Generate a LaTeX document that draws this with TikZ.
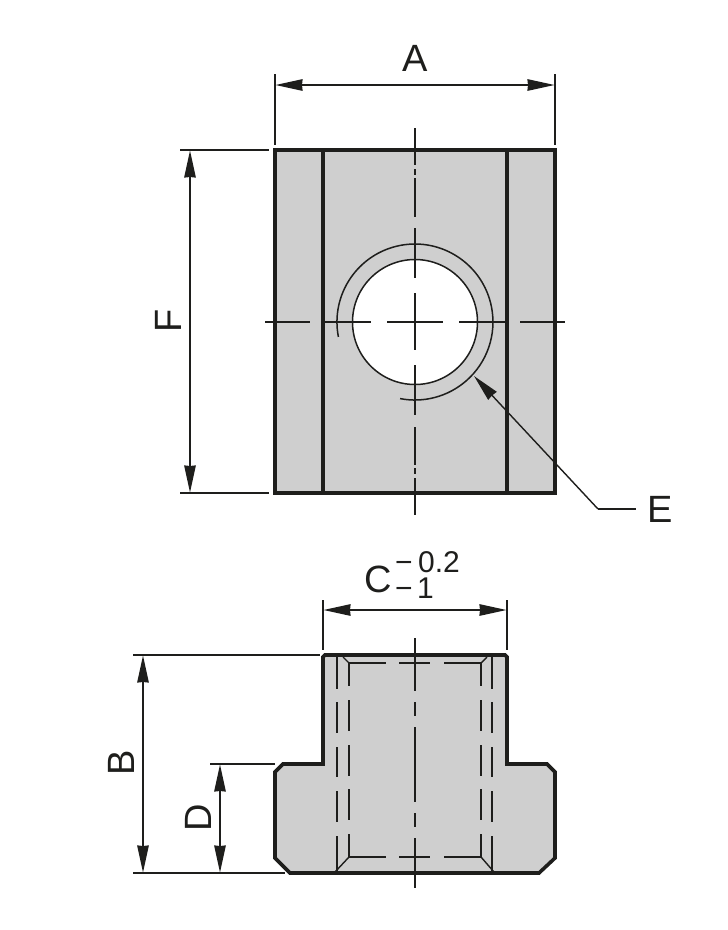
\documentclass[tikz,border=0pt]{standalone}
\usepackage{fontspec}
\setmainfont{Liberation Sans}
\usetikzlibrary{arrows.meta}
\definecolor{partgray}{HTML}{CFCFCF}
\definecolor{inkblack}{HTML}{1E1E1C}
\tikzset{
  partfill/.style={fill=partgray,draw=none},
  outline/.style={draw=inkblack,line width=3.6pt,line join=miter},
  thinline/.style={draw=inkblack,line width=1.5pt},
  hiddenline/.style={draw=inkblack,line width=1.4pt},
  dimline/.style={draw=inkblack,line width=1.4pt},
  dimarrows/.style={draw=inkblack,line width=1.4pt,{Stealth[length=27pt,width=11.5pt,inset=0.5pt]}-{Stealth[length=27pt,width=11.5pt,inset=0.5pt]}},
  leaderarrow/.style={draw=inkblack,line width=1.4pt,-{Stealth[length=27pt,width=11.5pt,inset=0.5pt]}},
  biglabel/.style={font=\fontsize{38}{38}\selectfont,text=inkblack,inner sep=0pt},
  smalllabel/.style={font=\fontsize{30}{30}\selectfont,text=inkblack,inner sep=0pt}
}
\begin{document}
\begin{tikzpicture}[x=1pt,y=-1pt]
\useasboundingbox (0,0) rectangle (728,930);

% ---- top view ----
\fill[partgray] (275,150) rectangle (555,493);
\node[circle,fill=white,draw=inkblack,line width=1.5pt,minimum size=125pt,inner sep=0pt] (hole) at (415,322) {};
\draw[thinline] (338.4,336.9) arc[start angle=191,end angle=-101,radius=78pt];
\draw[outline] (275,150) rectangle (555,493);
\draw[draw=inkblack,line width=3.4pt] (323,150) -- (323,493);
\draw[draw=inkblack,line width=3.4pt] (507,150) -- (507,493);
% centre lines
\foreach \a/\b in {128/165,169/175,178/217,228/278,293/350,365/415,427/465,468/474,478/515}
  \draw[thinline] (415,\a) -- (415,\b);
\foreach \a/\b in {265/310,322/371,387/443,459/508,520/565}
  \draw[thinline] (\a,322) -- (\b,322);

% dimension A
\coordinate (Atl) at (275,74); \coordinate (Abl) at (275,145);
\coordinate (Atr) at (555,74); \coordinate (Abr) at (555,145);
\coordinate (Al) at (275.5,85); \coordinate (Ar) at (554.5,85);
\draw[dimline] (Atl) -- (Abl);
\draw[dimline] (Atr) -- (Abr);
\draw[dimarrows] (Al) -- (Ar);
\node[biglabel,anchor=base] (labelA) at (415,71) {A};

% dimension F
\coordinate (Ftl) at (180,150); \coordinate (Ftr) at (269,150);
\coordinate (Fbl) at (180,493); \coordinate (Fbr) at (269,493);
\coordinate (Ft) at (190,150.5); \coordinate (Fb) at (190,492.5);
\draw[dimline] (Ftl) -- (Ftr);
\draw[dimline] (Fbl) -- (Fbr);
\draw[dimarrows] (Ft) -- (Fb);
\node[biglabel,anchor=base,rotate=90] (labelF) at (181,321) {F};

% leader E
\coordinate (Etip) at (474,376);
\coordinate (Eknee) at (598,509);
\coordinate (Eend) at (636,509);
\draw[leaderarrow] (Eknee) -- (Etip);
\draw[dimline] (Eknee) -- (Eend);
\node[biglabel,anchor=base west] (labelE) at (647,522) {E};

% ---- lower view ----
\path[partfill] (325,655) -- (505,655) -- (507,657) -- (507,764) -- (547,764) -- (555,772) -- (555,858) -- (539,873) -- (290,873) -- (275,858) -- (275,772) -- (283,764) -- (323,764) -- (323,657) -- cycle;
% hidden lines
\foreach \a/\b in {657/689,702/733,747/777,791/822,836/872} {
  \draw[hiddenline] (337,\a) -- (337,\b);
  \draw[hiddenline] (492,\a) -- (492,\b);
}
\foreach \a/\b in {663/686,700/731,745/776,789/820,834/857} {
  \draw[hiddenline] (349,\a) -- (349,\b);
  \draw[hiddenline] (481,\a) -- (481,\b);
}
\foreach \a/\b in {349/386,399/430,444/481} {
  \draw[hiddenline] (\a,663) -- (\b,663);
  \draw[hiddenline] (\a,857) -- (\b,857);
}
\draw[hiddenline] (343,657) -- (349,663);
\draw[hiddenline] (487,657) -- (481,663);
\draw[hiddenline] (349,857) -- (335,872);
\draw[hiddenline] (481,857) -- (494,872);
% centre line
\foreach \a/\b in {638/691,702/716,727/802,813/827,838/888}
  \draw[thinline] (415,\a) -- (415,\b);
\draw[outline] (325,655) -- (505,655) -- (507,657) -- (507,764) -- (547,764) -- (555,772) -- (555,858) -- (539,873) -- (290,873) -- (275,858) -- (275,772) -- (283,764) -- (323,764) -- (323,657) -- cycle;

% dimension C
\coordinate (Ctl) at (323,600); \coordinate (Cbl) at (323,650);
\coordinate (Ctr) at (507,600); \coordinate (Cbr) at (507,650);
\coordinate (Cl) at (323.5,610); \coordinate (Cr) at (506.5,610);
\draw[dimline] (Ctl) -- (Cbl);
\draw[dimline] (Ctr) -- (Cbr);
\draw[dimarrows] (Cl) -- (Cr);
\node[biglabel,anchor=base west] (labelC) at (364,592.5) {C};
\node[smalllabel,anchor=base west] (labelCup) at (395,572) {−\hspace{5.5pt}0.2};
\node[smalllabel,anchor=base west] (labelClow) at (395,598) {−\hspace{4.5pt}1};

% dimension B
\coordinate (Btl) at (133,655); \coordinate (Btr) at (320,655);
\coordinate (Bbl) at (133,873); \coordinate (Bbr) at (285,873);
\coordinate (Bt) at (143,655.5); \coordinate (Bb) at (143,872.5);
\draw[dimline] (Btl) -- (Btr);
\draw[dimline] (Bbl) -- (Bbr);
\draw[dimarrows] (Bt) -- (Bb);
\node[biglabel,anchor=base,rotate=90] (labelB) at (134,763) {B};

% dimension D
\coordinate (Dtl) at (210,764); \coordinate (Dtr) at (275,764);
\coordinate (Dt) at (220,764.5); \coordinate (Db) at (220,872.5);
\draw[dimline] (Dtl) -- (Dtr);
\draw[dimarrows] (Dt) -- (Db);
\node[biglabel,anchor=base,rotate=90] (labelD) at (211,818) {D};
\end{tikzpicture}
\end{document}
